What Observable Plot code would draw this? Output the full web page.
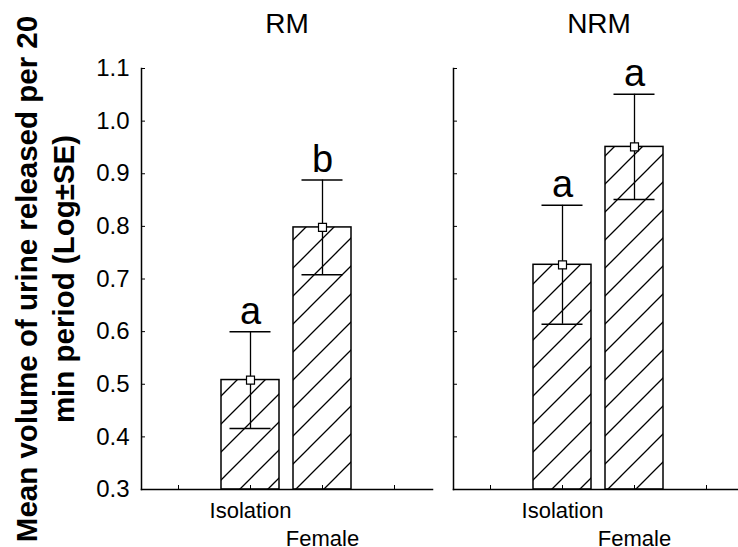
<!DOCTYPE html>
<html><head><meta charset="utf-8">
<script src="https://cdn.jsdelivr.net/npm/d3@7"></script>
<script src="https://cdn.jsdelivr.net/npm/@observablehq/plot@0.6"></script>
<style>
html,body{margin:0;padding:0;background:#fff;overflow:hidden;}
#chart{width:738px;height:547px;overflow:hidden;}
#chart svg{display:block;max-width:none !important;}
</style></head><body><div id="chart"></div>
<script>
const groups = ["RM", "NRM"];
const slots = ["pad1", "Isolation", "Female", "pad2"];
const groupOf = ["RM", "RM", "NRM", "NRM"];
const treatmentOf = ["Isolation", "Female", "Isolation", "Female"];
const means = [0.508, 0.798, 0.727, 0.951];
const errors = [0.092, 0.090, 0.113, 0.100];
const letters = ["a", "b", "a", "a"];
const yTicks = [0.3, 0.4, 0.5, 0.6, 0.7, 0.8, 0.9, 1.0, 1.1];
const yTitle = "Mean volume of urine released per 20\nmin period (Log±SE)";

const rows = means.map((m, i) => ({
  group: groupOf[i], treatment: treatmentOf[i], mean: m,
  lo: m - errors[i], hi: m + errors[i], letter: letters[i]
}));

const font = "'Liberation Sans', Arial, Helvetica, sans-serif";
const plot = Plot.plot({
  width: 745, height: 547,
  marginTop: 68, marginBottom: 58, marginLeft: 140, marginRight: 0,
  style: {fontFamily: font, fontSize: "22px", background: "white", color: "black", maxWidth: "none"},
  fx: {domain: groups, paddingInner: 0.067, paddingOuter: 0},
  x: {domain: slots, paddingInner: 0.19, paddingOuter: 0.095},
  y: {domain: [0.3, 1.1]},
  marks: [
    Plot.barY(rows, {fx: "group", x: "treatment", y1: 0.3, y2: "mean", fill: "url(#hatch)", stroke: "black", strokeWidth: 1.5}),
    Plot.ruleX(rows, {fx: "group", x: "treatment", y1: "lo", y2: "hi", stroke: "black", strokeWidth: 1.3}),
    Plot.tickY(rows, {fx: "group", x: "treatment", y: "hi", inset: 8.5, stroke: "black", strokeWidth: 1.5}),
    Plot.tickY(rows, {fx: "group", x: "treatment", y: "lo", inset: 8.5, stroke: "black", strokeWidth: 1.5}),
    Plot.dot(rows, {fx: "group", x: "treatment", y: "mean", symbol: "square", r: 4.5, fill: "white", stroke: "black", strokeWidth: 1.2}),
    Plot.text(rows, {fx: "group", x: "treatment", y: "hi", text: "letter", lineAnchor: "bottom", dy: -8, fontSize: 38}),
    Plot.frame({anchor: "left", stroke: "black", strokeWidth: 1.5}),
    Plot.frame({anchor: "bottom", stroke: "black", strokeWidth: 1.5}),
    Plot.axisY({ticks: yTicks, tickSize: -4, tickFormat: () => "", facetAnchor: null, label: null}),
    Plot.axisY({ticks: yTicks, tickSize: 0, tickPadding: 12, tickFormat: d3.format(".1f"), fontSize: 24, label: null}),
    Plot.axisX({tickSize: -4, tickFormat: () => "", label: null}),
    Plot.axisX({ticks: ["Isolation"], tickSize: 0, tickPadding: 13, label: null}),
    Plot.axisX({ticks: ["Female"], tickSize: 0, tickPadding: 41, label: null}),
    Plot.axisFx({anchor: "top", tickSize: 0, tickPadding: 36, fontSize: 28, label: null}),
    Plot.text([{g: "RM", t: yTitle}], {fx: "g", text: "t", frameAnchor: "left", textAnchor: "middle", rotate: -90, dx: -98, fontWeight: "bold", fontSize: 29.5, lineHeight: 1.254})
  ]
});

const defs = d3.select(plot).insert("defs", ":first-child");
const pat = defs.append("pattern").attr("id", "hatch").attr("patternUnits", "userSpaceOnUse").attr("width", 28).attr("height", 28);
pat.append("rect").attr("width", 28).attr("height", 28).attr("fill", "white");
pat.append("path").attr("d", "M0,28L28,0M-7,7L7,-7M21,35L35,21").attr("stroke", "black").attr("stroke-width", 1.3).attr("fill", "none");

document.getElementById("chart").appendChild(plot);
</script></body></html>
